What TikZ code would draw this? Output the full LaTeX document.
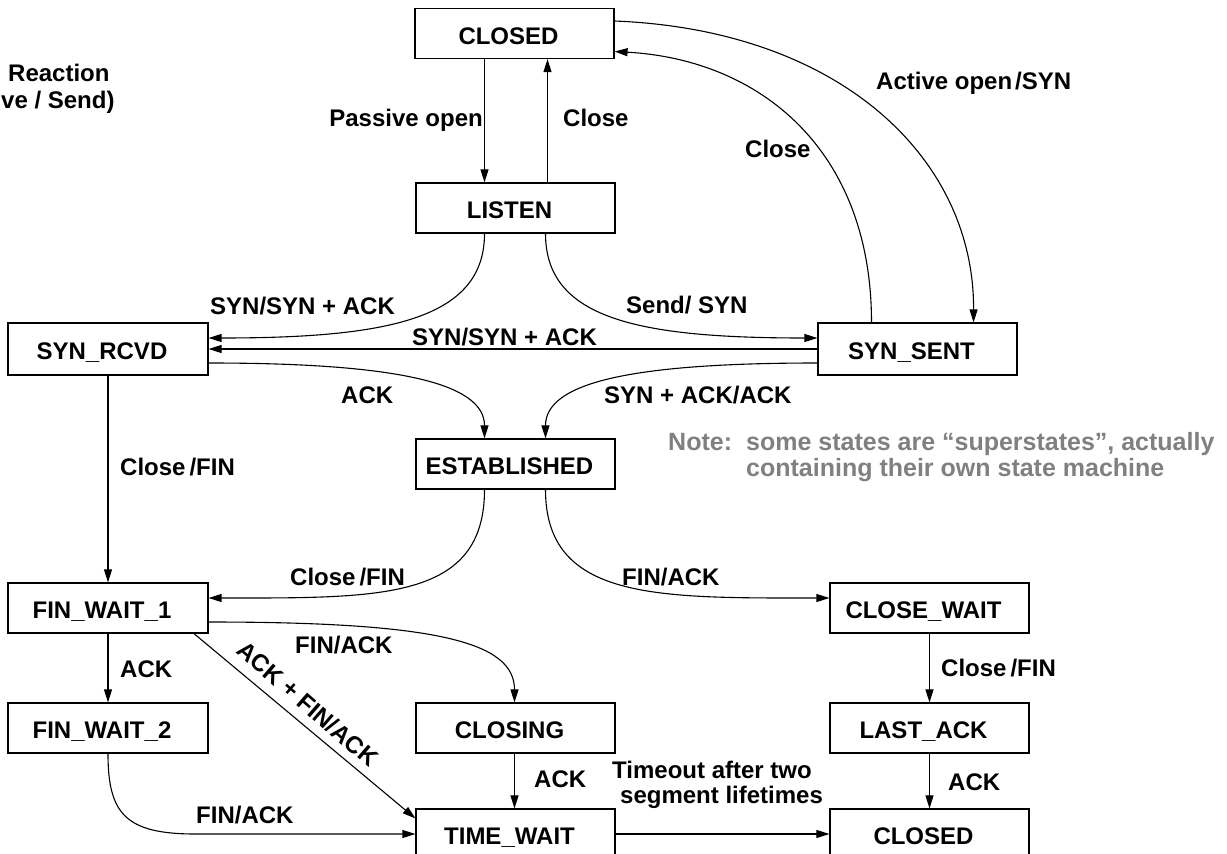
\documentclass[tikz,border=0pt]{standalone}
\usepackage{fontspec}
\setmainfont{Liberation Sans}
\usetikzlibrary{arrows.meta}
\begin{document}
\begin{tikzpicture}[x=1pt,y=-1pt,
  every node/.style={font=\fontsize{24}{26}\selectfont\bfseries},
  state/.style={draw, line width=1.2pt, minimum width=199pt, minimum height=50pt,
    inner sep=0pt, text height=21pt, text depth=0pt, execute at end node={\hspace*{12pt}}},
  lbl/.style={inner sep=0pt, anchor=base west},
  note/.style={lbl, text=black!50, font=\fontsize{25}{27}\selectfont\bfseries},
  conn/.style={line width=1.1pt, -{Triangle[length=13pt,width=8pt]}},
  plain/.style={line width=1.1pt}]
\clip (0,0) rectangle (1227,854);
% states
\node[state] (closedT) at (514.5,33.5) {CLOSED};
\node[state] (listen) at (515.5,208) {LISTEN};
\node[state, minimum width=200pt, minimum height=52pt] (synrcvd) at (108,349) {SYN\_RCVD};
\node[state, minimum height=52pt] (synsent) at (917.5,349) {SYN\_SENT};
\node[state] (estab) at (515.5,464) {ESTABLISHED};
\node[state, minimum width=200pt] (fw1) at (108,608) {FIN\_WAIT\_1};
\node[state] (cw) at (929.5,608) {CLOSE\_WAIT};
\node[state, minimum width=200pt] (fw2) at (108,728) {FIN\_WAIT\_2};
\node[state] (closing) at (515.5,728) {CLOSING};
\node[state] (lastack) at (929.5,728) {LAST\_ACK};
\node[state] (tw) at (515.5,834) {TIME\_WAIT};
\node[state] (closedB) at (929.5,834) {CLOSED};
% connectors
\draw[conn] ([xshift=-30pt]closedT.south) -- ([xshift=-31pt]listen.north);
\draw[conn] ([xshift=32pt]listen.north) -- ([xshift=33pt]closedT.south);
\draw[conn] ([yshift=12.5pt]closedT.east) .. controls +(227,9) and +(1,-163) .. ([xshift=56pt]synsent.north);
\draw[conn] ([xshift=-46pt]synsent.north) .. controls +(0,-173) and +(145,8) .. ([yshift=-18pt]closedT.east);
\draw[conn] ([xshift=-31pt]listen.south) .. controls +(0,85) and +(180,0) .. ([yshift=11pt]synrcvd.east);
\draw[conn] ([xshift=30pt]listen.south) .. controls +(0,85) and +(-180,0) .. ([yshift=11pt]synsent.west);
\draw[conn] (synsent.west) -- (synrcvd.east);
\draw[conn] ([yshift=-14pt]synrcvd.east) .. controls +(190,0) and +(0,-55) .. ([xshift=-31pt]estab.north);
\draw[conn] ([yshift=-14pt]synsent.west) .. controls +(-190,0) and +(0,-55) .. ([xshift=30pt]estab.north);
\draw[conn] (synrcvd.south) -- (fw1.north);
\draw[conn] ([xshift=-31pt]estab.south) .. controls +(0,111) and +(172,0) .. ([yshift=10pt]fw1.east);
\draw[conn] ([xshift=30pt]estab.south) .. controls +(0,111) and +(-172,0) .. ([yshift=10pt]cw.west);
\draw[conn] ([yshift=-14pt]fw1.east) .. controls +(230,0) and +(0,-60) .. ([xshift=-1pt]closing.north);
\draw[conn] (fw1.south) -- (fw2.north);
\draw[conn] ([xshift=86pt]fw1.south) -- ([yshift=-10pt]tw.north west);
\draw[conn] (fw2.south) .. controls +(0,60) and +(-70,0) .. ([xshift=-220pt]tw.west) -- (tw.west);
\draw[conn] ([xshift=-1pt]closing.south) -- ([xshift=-1pt]tw.north);
\draw[conn] (tw.east) -- (closedB.west);
\draw[conn] (cw.south) -- (lastack.north);
\draw[conn] (lastack.south) -- (closedB.north);
% labels
\node[lbl] (l1) at (8,81.5) {Reaction};
\node[lbl] (l2) at (1,108.5) {ve / Send)};
\node[lbl, anchor=base east] (l3) at (483,126.5) {Passive open};
\node[lbl] (l4) at (563,126.5) {Close};
\node[lbl] (l5) at (745,157.5) {Close};
\node[lbl] (l6) at (876,89.5) {Active open\kern3pt/SYN};
\node[lbl] (l7) at (210,314.5) {SYN/SYN + ACK};
\node[lbl] (l8) at (626,313.5) {Send/ SYN};
\node[lbl] (l9) at (412,345.5) {SYN/SYN + ACK};
\node[lbl] (l10) at (341,403.5) {ACK};
\node[lbl] (l11) at (604,403.5) {SYN + ACK/ACK};
\node[lbl] (l12) at (120,475.5) {Close\kern4pt/FIN};
\node[note] (n1) at (668,450.5) {Note:};
\node[note] (n2) at (746,450.5) {some states are “superstates”, actually};
\node[note] (n3) at (746,476.5) {containing their own state machine};
\node[lbl] (l13) at (290,585.5) {Close\kern4pt/FIN};
\node[lbl] (l14) at (622,585.5) {FIN/ACK};
\node[lbl] (l15) at (295,653.5) {FIN/ACK};
\node[lbl] (l16) at (120,677.5) {ACK};
\node[inner sep=0pt, rotate=-41] (l17) at (308,704) {ACK + FIN/ACK};
\node[lbl] (l18) at (196,823) {FIN/ACK};
\node[lbl] (l19) at (534,787.5) {ACK};
\node[lbl] (l20) at (612,778) {Timeout after two};
\node[lbl] (l21) at (620,803) {segment lifetimes};
\node[lbl] (l22) at (941,676.5) {Close\kern4pt/FIN};
\node[lbl] (l23) at (948,790.5) {ACK};
\end{tikzpicture}
\end{document}
